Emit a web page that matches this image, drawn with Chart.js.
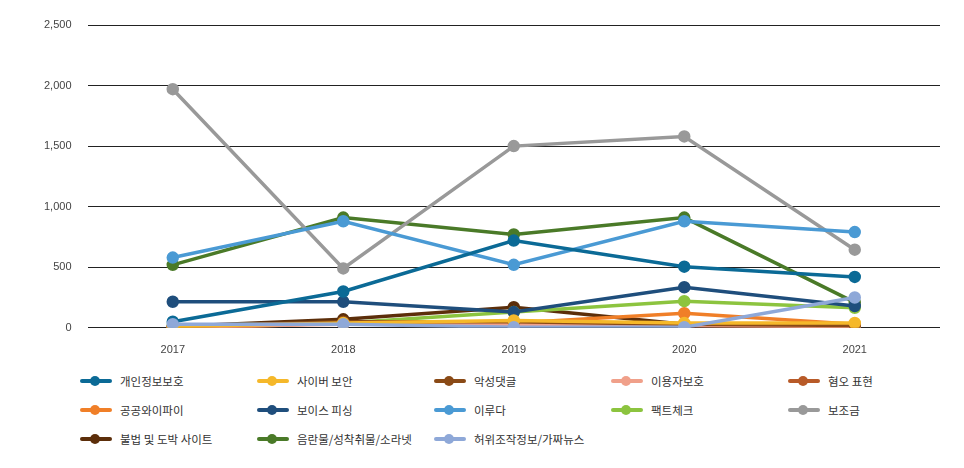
<!DOCTYPE html>
<html>
<head>
<meta charset="utf-8">
<script src="https://cdn.jsdelivr.net/npm/chart.js@4"></script>
<style>
  body { margin: 0; background: #fff; font-family: "Noto Sans CJK KR", "Noto Sans", sans-serif; }
  #wrap { position: relative; width: 964px; height: 365px; }
  #legend { display: grid; grid-template-columns: repeat(5, 177px); row-gap: 13px; margin: 8px 0 0 80px; }
  .item { display: flex; align-items: center; font-size: 11.5px; color: #333; }
  .sw { position: relative; width: 32px; height: 4px; border-radius: 2px; margin-right: 8px; }
  .sw i { position: absolute; left: 10px; top: -3px; width: 10px; height: 10px; border-radius: 50%; background: inherit; }
</style>
</head>
<body>
<div id="wrap"><canvas id="chart"></canvas></div>
<div id="legend"></div>
<script>
const years = ["2017", "2018", "2019", "2020", "2021"];
const seriesNames = ["개인정보보호", "사이버 보안", "악성댓글", "이용자보호", "혐오 표현",
  "공공와이파이", "보이스 피싱", "이루다", "팩트체크", "보조금",
  "불법 및 도박 사이트", "음란물/성착취물/소라넷", "허위조작정보/가짜뉴스"];
const seriesColors = ["#0b6a96", "#f5b82a", "#8a4a16", "#f0a08a", "#b85a28",
  "#f07f28", "#1f4e7c", "#4a9ad4", "#8cc43f", "#999999",
  "#5c2e0a", "#4a7a28", "#8ea8d8"];
const seriesValues = [
  [50, 300, 720, 505, 420],
  [10, 40, 60, 40, 40],
  [10, 50, 50, 30, 20],
  [5, 30, 30, 20, 10],
  [0, 40, 40, 20, 10],
  [-10, 40, 40, 120, 30],
  [215, 215, 130, 335, 180],
  [580, 880, 520, 880, 790],
  [20, 40, 130, 220, 165],
  [1970, 490, 1500, 1580, 645],
  [10, 70, 170, 30, 20],
  [520, 910, 770, 910, 210],
  [30, 30, 5, 5, 250]
];

// draw order: later datasets sit on top
const order = [12, 0, 1, 2, 3, 4, 5, 6, 7, 8, 9, 11, 10];
const datasets = order.map(i => ({
  label: seriesNames[i],
  data: seriesValues[i],
  borderColor: seriesColors[i],
  backgroundColor: seriesColors[i],
  borderWidth: 3.5,
  pointRadius: 4.5,
  pointHoverRadius: 4.5,
  tension: 0
}));

new Chart(document.getElementById("chart"), {
  type: "line",
  data: { labels: years, datasets },
  options: {
    responsive: true,
    maintainAspectRatio: false,
    animation: false,
    layout: { padding: { top: 25, right: 24, left: 28, bottom: 0 } },
    plugins: { legend: { display: false }, tooltip: { enabled: false } },
    scales: {
      x: {
        offset: true,
        grid: { display: false },
        border: { display: false },
        ticks: { color: "#444", font: { size: 11 }, padding: 8 }
      },
      y: {
        min: 0, max: 2500,
        ticks: { stepSize: 500, color: "#444", font: { size: 11 }, padding: 16,
          callback: v => v.toLocaleString("en-US") },
        grid: { color: "#222", lineWidth: 1, drawTicks: false },
        border: { display: false }
      }
    }
  }
});

// legend in a fixed 5-column grid
const legend = document.getElementById("legend");
seriesNames.forEach((name, i) => {
  const el = document.createElement("div");
  el.className = "item";
  el.innerHTML = `<span class="sw" style="background:${seriesColors[i]}"><i></i></span>${name}`;
  legend.appendChild(el);
});
</script>
</body>
</html>
